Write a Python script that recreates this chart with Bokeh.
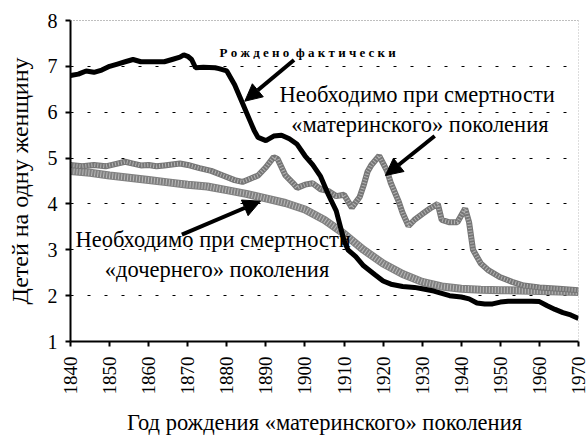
import math
from bokeh.plotting import figure
from bokeh.models import (ColumnDataSource, FixedTicker, Span, Label, Arrow,
                          NormalHead, Range1d)
from bokeh.embed import file_html
from bokeh.resources import INLINE

# ---- data ----
actual_years = [1840, 1842, 1844, 1846, 1848, 1850, 1852, 1854, 1856, 1858, 1860,
                1862, 1864, 1866, 1868, 1869, 1870, 1871, 1872, 1874, 1877, 1878,
                1880, 1882, 1884, 1885, 1886, 1887, 1888, 1890, 1892, 1894, 1896,
                1898, 1900, 1902, 1904, 1906, 1908, 1910, 1911, 1913, 1915, 1918,
                1920, 1922, 1925, 1928, 1930, 1933, 1935, 1937, 1940, 1942, 1944,
                1946, 1948, 1950, 1952, 1955, 1958, 1960, 1962, 1964, 1966, 1968,
                1970]
actual_vals = [6.8, 6.83, 6.9, 6.87, 6.92, 7.0, 7.05, 7.1, 7.15, 7.1, 7.1,
               7.1, 7.1, 7.15, 7.2, 7.25, 7.22, 7.15, 6.97, 6.98, 6.97, 6.95,
               6.9, 6.6, 6.2, 6.0, 5.8, 5.6, 5.45, 5.38, 5.48, 5.5, 5.42,
               5.3, 5.05, 4.85, 4.6, 4.2, 3.85, 3.2, 3.0, 2.85, 2.65, 2.45,
               2.32, 2.25, 2.2, 2.18, 2.15, 2.1, 2.05, 2.0, 1.97, 1.93, 1.84,
               1.82, 1.82, 1.86, 1.88, 1.88, 1.88, 1.87, 1.78, 1.7, 1.63, 1.58,
               1.5]

maternal_years = [1840, 1843, 1846, 1849, 1852, 1854, 1856, 1858, 1860, 1862, 1864,
                  1866, 1868, 1870, 1873, 1876, 1879, 1882, 1884, 1886, 1888, 1890,
                  1892, 1893, 1895, 1897, 1898, 1900, 1902, 1904, 1906, 1908, 1910,
                  1912, 1914, 1915, 1916, 1917, 1919, 1921, 1922, 1924, 1925, 1926.5,
                  1928, 1930, 1932, 1934, 1935, 1937, 1939, 1941, 1942, 1943, 1945,
                  1947, 1950, 1953, 1956, 1960, 1965, 1970]
maternal_vals = [4.85, 4.82, 4.85, 4.82, 4.88, 4.92, 4.88, 4.84, 4.85, 4.82, 4.84,
                 4.86, 4.88, 4.85, 4.78, 4.72, 4.62, 4.52, 4.48, 4.55, 4.62, 4.8,
                 5.02, 4.98, 4.62, 4.45, 4.35, 4.42, 4.45, 4.32, 4.28, 4.17, 4.2,
                 3.92, 4.15, 4.4, 4.7, 4.85, 5.05, 4.72, 4.45, 4.05, 3.8, 3.52,
                 3.65, 3.78, 3.9, 4.0, 3.65, 3.6, 3.6, 3.9, 3.6, 3.0, 2.7,
                 2.55, 2.4, 2.3, 2.22, 2.18, 2.15, 2.12]

daughter_years = [1840, 1845, 1850, 1855, 1860, 1865, 1870, 1875, 1880, 1885, 1890,
                  1895, 1900, 1905, 1910, 1915, 1920, 1925, 1930, 1935, 1940, 1945,
                  1950, 1960, 1970]
daughter_vals = [4.72, 4.68, 4.62, 4.57, 4.52, 4.47, 4.42, 4.38, 4.3, 4.22, 4.12,
                 4.02, 3.88, 3.65, 3.35, 3.0, 2.7, 2.47, 2.3, 2.2, 2.15, 2.13,
                 2.12, 2.1, 2.08]

x_ticks = list(range(1840, 1971, 10))
y_ticks = [1, 2, 3, 4, 5, 6, 7, 8]

FONT = "Liberation Serif"

p = figure(width=588, height=437, output_backend="svg", toolbar_location=None,
           x_range=Range1d(1840, 1970), y_range=Range1d(1, 8),
           min_border_left=70, min_border_right=10, min_border_top=20,
           min_border_bottom=92)
p.outline_line_color = None
p.background_fill_color = "white"
p.border_fill_color = "white"

# axes
p.xaxis.ticker = FixedTicker(ticks=x_ticks)
p.yaxis.ticker = FixedTicker(ticks=y_ticks)
for ax in (p.xaxis[0], p.yaxis[0]):
    ax.axis_line_color = "black"
    ax.axis_line_width = 2
    ax.major_tick_line_color = "black"
    ax.major_tick_line_width = 2
    ax.major_tick_out = 5
    ax.major_tick_in = 0
    ax.minor_tick_line_color = None
    ax.major_label_text_font = FONT
    ax.major_label_text_color = "black"
    ax.axis_label_text_font = FONT
    ax.axis_label_text_font_style = "normal"
    ax.axis_label_text_color = "black"
p.xaxis.major_label_orientation = math.pi / 2
p.xaxis.major_label_text_font_size = "19px"
p.yaxis.major_label_text_font_size = "20px"
p.xaxis.axis_label = "Год рождения «материнского» поколения"
p.yaxis.axis_label = "Детей на одну женщину"
p.xaxis.axis_label_text_font_size = "22.5px"
p.yaxis.axis_label_text_font_size = "24px"
p.xaxis.axis_label_standoff = 12
p.yaxis.axis_label_standoff = 12
p.xaxis.major_label_standoff = 10
p.yaxis.major_label_standoff = 8

# grid
p.xgrid.grid_line_color = None
p.ygrid.ticker = FixedTicker(ticks=[2, 3, 4, 5, 6, 7])
p.ygrid.grid_line_color = "black"
p.ygrid.grid_line_dash = "3 14"
p.ygrid.grid_line_width = 1
p.add_layout(Span(location=8, dimension="width", line_color="black",
                  line_dash="1 2", line_width=1))
p.add_layout(Span(location=1970, dimension="height", line_color="#777777",
                  line_dash="1 2", line_width=1))

# series
src_d = ColumnDataSource(dict(x=daughter_years, y=daughter_vals))
src_m = ColumnDataSource(dict(x=maternal_years, y=maternal_vals))
src_a = ColumnDataSource(dict(x=actual_years, y=actual_vals))

p.line("x", "y", source=src_d, line_color="#808080", line_width=8)
p.line("x", "y", source=src_d, line_color="white", line_width=6,
       line_dash="1 2", line_alpha=0.45)
p.line("x", "y", source=src_m, line_color="#767676", line_width=6)
p.line("x", "y", source=src_m, line_color="white", line_width=4,
       line_dash="1 2", line_alpha=0.45)
p.line("x", "y", source=src_a, line_color="black", line_width=5)

# arrows
head = dict(size=17, fill_color="black", line_color="black")
p.add_layout(Arrow(end=NormalHead(**head), x_start=1897.2, y_start=7.14,
                   x_end=1884.6, y_end=6.24, line_width=4, line_color="black"))
p.add_layout(Arrow(end=NormalHead(**head), x_start=1933.2, y_start=5.48,
                   x_end=1920.6, y_end=4.62, line_width=4, line_color="black"))
p.add_layout(Arrow(end=NormalHead(**head), x_start=1868.5, y_start=3.33,
                   x_end=1888.6, y_end=4.06, line_width=4, line_color="black"))

# labels (data coordinates)
def lab(txt, x, y, size, style="normal"):
    p.add_layout(Label(x=x, y=y, text=txt,
                       text_font=FONT, text_font_size=size, text_font_style=style,
                       text_align="center", text_baseline="middle",
                       text_color="black"))

lab("Р о ж д е н о \u00a0ф а к т и ч е с к и", 1900.7, 7.31, "13px", "bold")
lab("Необходимо при смертности", 1928.7, 6.39, "22.5px")
lab("«материнского» поколения", 1929.4, 5.74, "22.5px")
lab("Необходимо при смертности", 1876.5, 3.22, "22.5px")
lab("«дочернего» поколения", 1877.5, 2.57, "22.5px")

open("out.html", "w").write(file_html(p, INLINE))
